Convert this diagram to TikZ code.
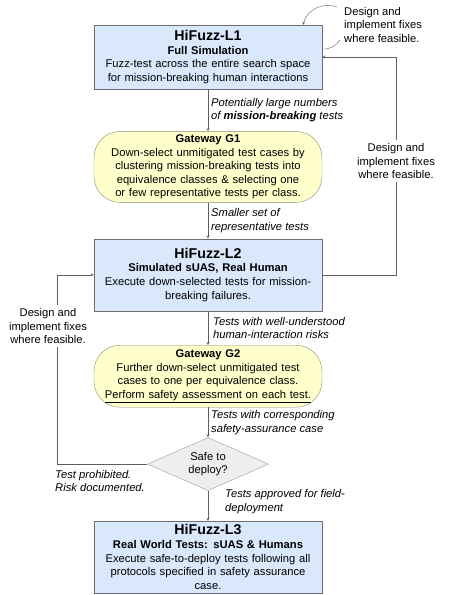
\documentclass[tikz,border=0pt]{standalone}
\usepackage{fontspec}
\setmainfont{Liberation Sans}
\usepackage{tikz}
\usetikzlibrary{positioning, arrows, shapes}
\usetikzlibrary{shapes.geometric,arrows}
\definecolor{levelblue}{HTML}{DAE8FC}
\definecolor{gateyellow}{HTML}{FFFFCC}
\definecolor{boxline}{HTML}{6E6E6E}
\definecolor{gateline}{HTML}{8C8C70}
\definecolor{decfill}{HTML}{EEEEEE}
\definecolor{decline}{HTML}{9A9A9A}
\definecolor{arrowgray}{HTML}{5E5E5E}
\newcommand{\lvltitle}[1]{{\fontsize{14.2}{15.5}\selectfont\bfseries #1}}
\tikzstyle{level} = [rectangle, minimum width=228pt, text width=226pt, inner sep=1pt, text centered, draw=boxline, fill=levelblue, font=\fontsize{11.2}{13.6}\selectfont]
\tikzstyle{gateway} = [rectangle, rounded corners=26pt, minimum width=228pt, text width=226pt, inner sep=1pt, text centered, draw=gateline, fill=gateyellow, font=\fontsize{11.2}{13.6}\selectfont]
\tikzstyle{decision} = [diamond, aspect=2.3, minimum width=121pt, minimum height=53pt, inner sep=0pt, text centered, draw=decline, fill=decfill, font=\fontsize{11.2}{13.6}\selectfont, align=center]
\tikzstyle{arrow} = [->,>=stealth, draw=arrowgray]
\tikzstyle{flowlabel} = [right, align=left, inner sep=3pt, font=\fontsize{11.2}{13.6}\selectfont\itshape]
\tikzstyle{fixnote} = [align=center, inner sep=3pt, font=\fontsize{11.2}{13.6}\selectfont]

\begin{document}
\begin{tikzpicture}[node distance=36pt]
\useasboundingbox (0,0) rectangle (457pt,-595pt);

\node (l1) [level, minimum height=64pt] at (208pt,-57pt) {\lvltitle{HiFuzz-L1}\\\textbf{Full Simulation}\\Fuzz-test across the entire search space\\for mission-breaking human interactions};
\node (g1) [gateway, minimum height=71pt, below=42pt of l1] {\textbf{Gateway G1}\\Down-select unmitigated test cases by\\clustering mission-breaking tests into\\equivalence classes \& selecting one\\or few representative tests per class.};
\node (l2) [level, minimum height=72pt, below=36pt of g1] {\lvltitle{HiFuzz-L2}\\\textbf{Simulated sUAS, Real Human}\\Execute down-selected tests for mission-\\breaking failures.};
\node (g2) [gateway, minimum height=62pt, below=34pt of l2] {\textbf{Gateway G2}\\Further down-select unmitigated test\\cases to one per equivalence class.\\\underline{Perform safety assessment on each test.}};
\node (safe) [decision, below=30pt of g2] {Safe to\\deploy?};
\node (l3) [level, minimum height=72pt, below=30pt of safe] {\lvltitle{HiFuzz-L3}\\\textbf{Real World Tests: sUAS \& Humans}\\Execute safe-to-deploy tests following all\\protocols specified in safety assurance\\case.};

\node (fixR) [fixnote] at (396pt,-161pt) {Design and\\implement fixes\\where feasible.};
\node (fixL) [fixnote] at (48pt,-326pt) {Design and\\implement fixes\\where feasible.};
\node (fixT) [fixnote, align=left, anchor=north west] at (341pt,-4pt) {Design and\\implement fixes\\where feasible.};
\node (stop) [flowlabel, anchor=north west] at (52pt,-467pt) {Test prohibited.\\Risk documented.};
\coordinate (lx) at (57pt,0);

\draw [arrow] (l1) -- node[flowlabel] {Potentially large numbers\\of \textbf{mission-breaking} tests} (g1);
\draw [arrow] (g1) -- node[flowlabel] {Smaller set of\\representative tests} (l2);
\draw [arrow] (l2) -- node[flowlabel, xshift=2pt] {Tests with well-understood\\human-interaction risks} (g2);
\draw [arrow] (g2) -- node[flowlabel] {Tests with corresponding\\safety-assurance case} (safe);
\draw [arrow] (safe) -- node[flowlabel, xshift=14pt, yshift=4pt] {Tests approved for field-\\deployment} (l3);

% fix loops
\draw [arrowgray] (l2.east) -| (fixR.south);
\draw [arrow] (fixR.north) |- (l1.east);
\draw [arrowgray] (safe.west) -| (fixL.south -| lx);
\draw [arrow] (fixL.north -| lx) |- (l2.west);
\draw [arrow] ([xshift=-4pt,yshift=-3pt]fixT.north west) to[bend right=50] ([xshift=-19pt]l1.north east);
\draw [arrowgray] ([xshift=-1pt,yshift=6pt]fixT.south west) to[bend left=30] ([yshift=8pt]l1.east);

\end{tikzpicture}
\end{document}
